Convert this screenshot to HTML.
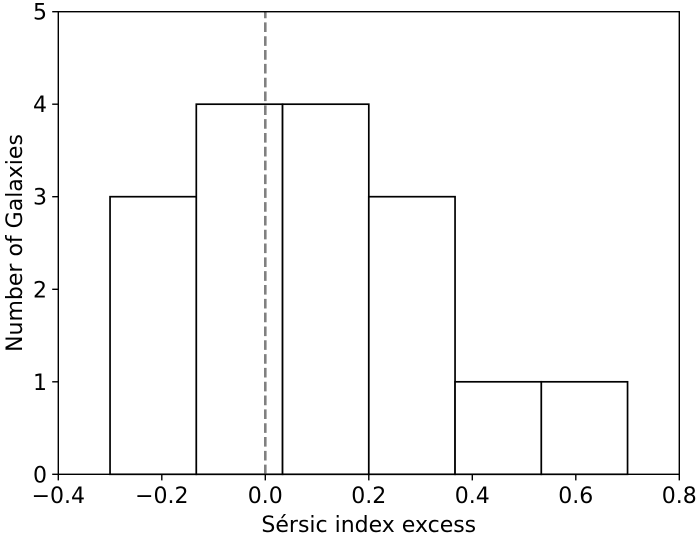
<!DOCTYPE html>
<html><head><meta charset="utf-8"><style>
html,body{margin:0;padding:0;background:#fff;}
svg{display:block;}
text{font-family:"DejaVu Sans","Liberation Sans",sans-serif;font-size:22px;fill:#000;}
</style></head><body>
<svg width="700" height="540" viewBox="0 0 700 540" xmlns="http://www.w3.org/2000/svg">
<rect x="0" y="0" width="700" height="540" fill="#fff"/>
<g fill="#fff" stroke="#000" stroke-width="1.7">
<rect x="110.05" y="196.7" width="86.25" height="277.6"/>
<rect x="196.3" y="104.2" width="86.25" height="370.1"/>
<rect x="282.55" y="104.2" width="86.25" height="370.1"/>
<rect x="368.8" y="196.7" width="86.25" height="277.6"/>
<rect x="455.05" y="381.8" width="86.25" height="92.5"/>
<rect x="541.3" y="381.8" width="86.25" height="92.5"/>
</g>
<line x1="265.3" y1="474.3" x2="265.3" y2="11.7" stroke="#808080" stroke-width="2.6" stroke-dasharray="9.64 4.18"/>
<rect x="58.3" y="11.7" width="621" height="462.6" fill="none" stroke="#000" stroke-width="1.4"/>
<g stroke="#000" stroke-width="1.4">
<line x1="58.3" y1="474.3" x2="58.3" y2="480.4"/>
<line x1="161.8" y1="474.3" x2="161.8" y2="480.4"/>
<line x1="265.3" y1="474.3" x2="265.3" y2="480.4"/>
<line x1="368.8" y1="474.3" x2="368.8" y2="480.4"/>
<line x1="472.3" y1="474.3" x2="472.3" y2="480.4"/>
<line x1="575.8" y1="474.3" x2="575.8" y2="480.4"/>
<line x1="679.3" y1="474.3" x2="679.3" y2="480.4"/>
<line x1="52.2" y1="474.3" x2="58.3" y2="474.3"/>
<line x1="52.2" y1="381.8" x2="58.3" y2="381.8"/>
<line x1="52.2" y1="289.3" x2="58.3" y2="289.3"/>
<line x1="52.2" y1="196.7" x2="58.3" y2="196.7"/>
<line x1="52.2" y1="104.2" x2="58.3" y2="104.2"/>
<line x1="52.2" y1="11.7" x2="58.3" y2="11.7"/>
</g>
<g text-anchor="middle">
<text x="58.3" y="503">−0.4</text>
<text x="161.8" y="503">−0.2</text>
<text x="265.3" y="503">0.0</text>
<text x="368.8" y="503">0.2</text>
<text x="472.3" y="503">0.4</text>
<text x="575.8" y="503">0.6</text>
<text x="679.3" y="503">0.8</text>
</g>
<g text-anchor="end">
<text x="47" y="482.3">0</text>
<text x="47" y="389.8">1</text>
<text x="47" y="297.3">2</text>
<text x="47" y="204.7">3</text>
<text x="47" y="112.2">4</text>
<text x="47" y="19.7">5</text>
</g>
<text x="368.8" y="532" text-anchor="middle">Sérsic index excess</text>
<text transform="translate(22,243) rotate(-90)" text-anchor="middle">Number of Galaxies</text>
</svg>
</body></html>
